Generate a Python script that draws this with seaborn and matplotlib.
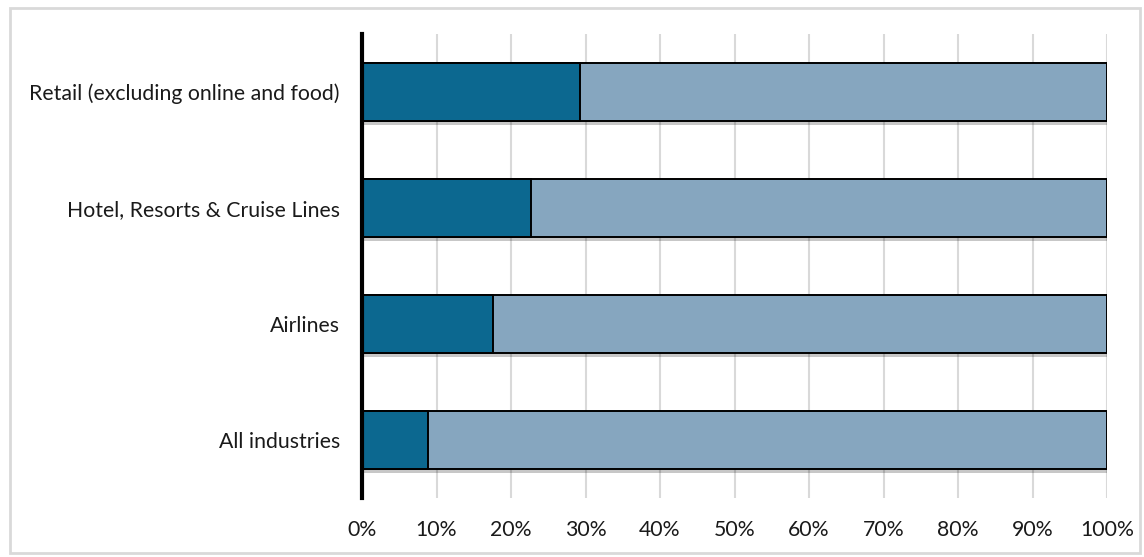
import matplotlib
matplotlib.use("Agg")
import matplotlib.pyplot as plt
import matplotlib.patheffects as pe
from matplotlib.patches import Rectangle
import seaborn as sns
import pandas as pd

categories = ["Retail (excluding online and food)", "Hotel, Resorts & Cruise Lines", "Airlines", "All industries"]
dark_share = [29.3, 22.7, 17.6, 8.9]
total_share = [100, 100, 100, 100]
x_ticks = [0, 10, 20, 30, 40, 50, 60, 70, 80, 90, 100]

sns.set_theme(style="white")
plt.rcParams["font.family"] = ["Lato", "DejaVu Sans"]

df = pd.DataFrame({"cat": categories, "dark": dark_share, "total": total_share})

W, H = 1144, 557
fig = plt.figure(figsize=(W / 100, H / 100), dpi=100)
ax = fig.add_axes([362 / W, 1 - 498 / H, (1107 - 362) / W, (498 - 34) / H])

shadow = [pe.SimplePatchShadow(offset=(0, -3), shadow_rgbFace="#000000", alpha=0.22), pe.Normal()]

sns.barplot(data=df, x="total", y="cat", orient="h", color="#86a6bf", saturation=1,
            width=0.5, edgecolor="black", linewidth=1.4, ax=ax)
sns.barplot(data=df, x="dark", y="cat", orient="h", color="#0c6890", saturation=1,
            width=0.5, edgecolor="black", linewidth=1.4, ax=ax)
for p in ax.patches[:len(categories)]:
    p.set_path_effects(shadow)

ax.set_xlim(0, 100)
ax.set_ylim(3.5, -0.5)
ax.set_xticks(x_ticks)
ax.set_xticklabels([f"{t}%" for t in x_ticks])
ax.set_xlabel("")
ax.set_ylabel("")
ax.xaxis.grid(True, color="#d9d9d9", linewidth=1.5)
ax.set_axisbelow(True)
for s in ["top", "right", "bottom"]:
    ax.spines[s].set_visible(False)
ax.spines["left"].set_color("black")
ax.spines["left"].set_linewidth(3)
ax.tick_params(axis="both", length=0, labelsize=15.3, colors="#1a1a1a")
ax.tick_params(axis="x", pad=16)
ax.tick_params(axis="y", pad=16)

fig.patches.append(Rectangle((10 / W, 4 / H), (1140 - 10) / W, (553 - 8) / H,
                             transform=fig.transFigure, fill=False,
                             edgecolor="#d9d9d9", linewidth=2))

fig.savefig("out.png", dpi=100)
